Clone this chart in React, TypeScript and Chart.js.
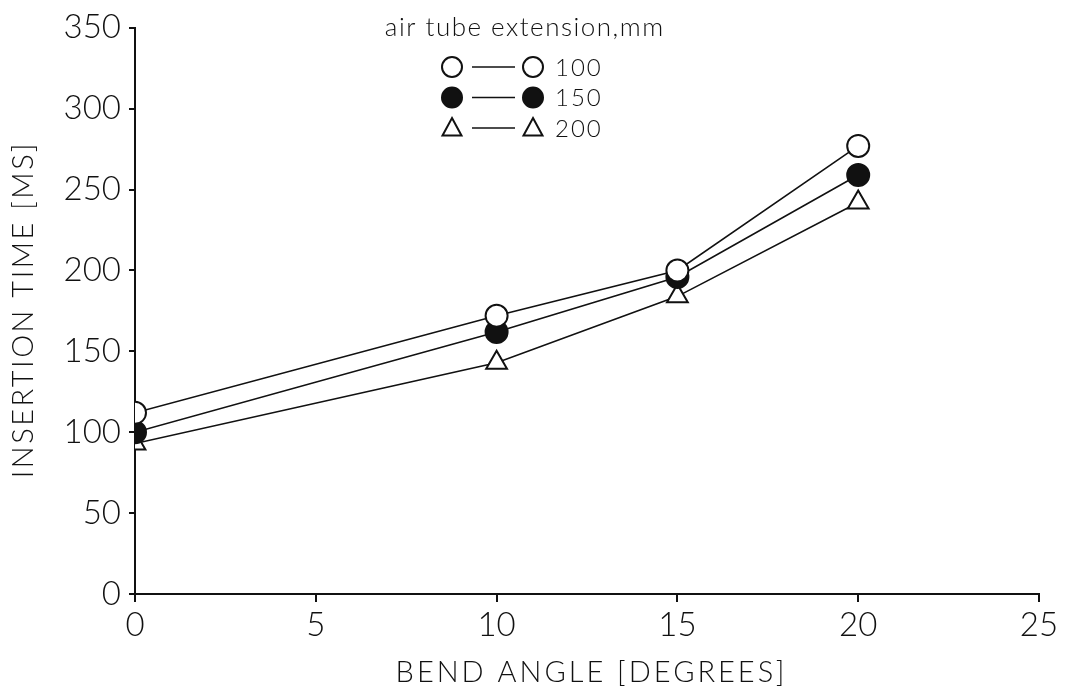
import React, { useEffect, useRef } from 'react';
import { Chart, registerables } from 'chart.js';

Chart.register(...registerables);

const bendAngles = [0, 10, 15, 20];
const ext100 = [112, 172, 200, 277];
const ext150 = [100, 162, 196, 259];
const ext200 = [93, 143, 184, 242];
const seriesLabels = ['100', '150', '200'];
const legendTitle = 'air tube extension,mm';
const xTitle = 'BEND ANGLE [DEGREES]';
const yTitle = 'INSERTION TIME [MS]';

const FONT = 'Lato, "DejaVu Sans", sans-serif';
const INK = '#111';

function drawMarker(ctx: CanvasRenderingContext2D, style: string, filled: boolean, x: number, y: number, r: number) {
  ctx.save();
  ctx.lineWidth = 2;
  ctx.strokeStyle = INK;
  ctx.fillStyle = filled ? INK : '#fff';
  ctx.beginPath();
  if (style === 'triangle') {
    ctx.moveTo(x, y - r);
    ctx.lineTo(x + r * 0.95, y + r * 0.75);
    ctx.lineTo(x - r * 0.95, y + r * 0.75);
    ctx.closePath();
  } else {
    ctx.arc(x, y, r, 0, Math.PI * 2);
  }
  ctx.fill();
  ctx.stroke();
  ctx.restore();
}

function spacedText(ctx: CanvasRenderingContext2D, text: string, x: number, y: number, spacing: number) {
  const c: any = ctx;
  if ('letterSpacing' in c) {
    c.letterSpacing = `${spacing}px`;
    ctx.fillText(text, x + spacing / 2, y);
    c.letterSpacing = '0px';
  } else {
    ctx.fillText(text, x, y);
  }
}

const customDecor = {
  id: 'customDecor',
  afterDraw(chart: any) {
    const ctx: CanvasRenderingContext2D = chart.ctx;
    const area = chart.chartArea;
    ctx.save();
    ctx.fillStyle = INK;
    ctx.textBaseline = 'middle';

    // legend title
    ctx.font = `300 26px ${FONT}`;
    ctx.textAlign = 'center';
    spacedText(ctx, legendTitle, 524, 28, 1.5);

    chart.data.datasets.forEach((ds: any, i: number) => {
      const y = 67 + i * 30.5;
      const style = ds.pointStyle;
      const filled = ds.pointBackgroundColor === INK;
      ctx.strokeStyle = INK;
      ctx.lineWidth = 1.5;
      ctx.beginPath();
      ctx.moveTo(472, y);
      ctx.lineTo(515, y);
      ctx.stroke();
      drawMarker(ctx, style, filled, 452, y, 10);
      drawMarker(ctx, style, filled, 533, y, 10);
      ctx.fillStyle = INK;
      ctx.font = `300 24px ${FONT}`;
      ctx.textAlign = 'left';
      spacedText(ctx, ds.label, 554, y + 1, 2);
    });

    // x axis title
    ctx.font = `300 29px ${FONT}`;
    ctx.textAlign = 'center';
    spacedText(ctx, xTitle, (area.left + area.right) / 2 + 3, 673, 3);

    // y axis title
    ctx.translate(24, (area.top + area.bottom) / 2);
    ctx.rotate(-Math.PI / 2);
    ctx.font = `300 29px ${FONT}`;
    ctx.textAlign = 'center';
    spacedText(ctx, yTitle, 0, 0, 2.5);
    ctx.restore();
  },
};

export default function App() {
  const ref = useRef<HTMLCanvasElement | null>(null);
  useEffect(() => {
    document.body.style.margin = '0';
    const ctx = ref.current!.getContext('2d')!;
    const mk = (label: string, vals: number[], style: string, filled: boolean) => ({
      label,
      data: bendAngles.map((x, i) => ({ x, y: vals[i] })),
      borderColor: INK,
      borderWidth: 1.6,
      pointStyle: style,
      pointRadius: style === 'triangle' ? 12 : 11,
      pointBorderWidth: 2,
      pointBorderColor: INK,
      pointBackgroundColor: filled ? INK : '#fff',
      fill: false,
      tension: 0,
    });
    const chart = new Chart(ctx, {
      type: 'line',
      data: {
        datasets: [
          mk(seriesLabels[0], ext100, 'circle', false),
          mk(seriesLabels[1], ext150, 'circle', true),
          mk(seriesLabels[2], ext200, 'triangle', false),
        ],
      },
      plugins: [customDecor],
      options: {
        animation: false,
        responsive: false,
        maintainAspectRatio: false,
        layout: { padding: { top: 23, right: 27, left: 0, bottom: 0 } },
        plugins: { legend: { display: false }, tooltip: { enabled: false } },
        scales: {
          x: {
            type: 'linear',
            min: 0,
            max: 25,
            ticks: { stepSize: 5, color: INK, font: { family: FONT, size: 33, weight: '300' as any }, padding: 4 },
            grid: { drawOnChartArea: false, drawTicks: true, tickLength: 8, color: INK, lineWidth: 2 },
            border: { color: INK, width: 2 },
            afterFit: (s: any) => { s.height = 100; },
          },
          y: {
            min: 0,
            max: 350,
            ticks: { stepSize: 50, color: INK, font: { family: FONT, size: 33, weight: '300' as any }, padding: 8 },
            grid: { drawOnChartArea: false, drawTicks: true, tickLength: 6, color: INK, lineWidth: 2 },
            border: { color: INK, width: 2 },
            afterFit: (s: any) => { s.width = 135; },
          },
        },
      },
    });
    return () => chart.destroy();
  }, []);
  return (
    <div style={{ width: 1066, height: 694, background: '#fff' }}>
      <canvas ref={ref} width={1066} height={694} style={{ display: 'block' }} />
    </div>
  );
}
